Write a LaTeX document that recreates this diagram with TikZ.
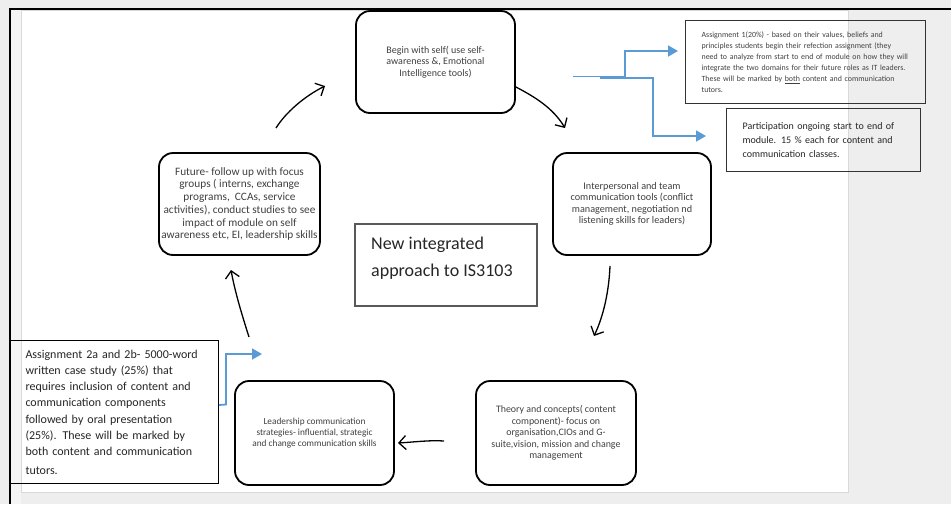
\documentclass[tikz,border=0pt]{standalone}
\usepackage{fontspec}
\setmainfont{Carlito}
\usetikzlibrary{arrows.meta}
\definecolor{bg}{HTML}{EDEEED}
\definecolor{txt}{HTML}{404040}
\definecolor{dtxt}{HTML}{262626}
\definecolor{blu}{HTML}{5B9BD5}
\begin{document}
\begin{tikzpicture}[x=1pt,y=-1pt,
  cyc/.style={draw=black, line width=1.8pt, rounded corners=14pt, inner sep=0pt, align=center, text=txt},
  flow/.style={line width=1.3pt, -{Straight Barb[length=7pt,width=14pt]}},
  bl/.style={draw=blu, line width=1.8pt, -{Triangle[length=10pt,width=11pt]}},
  note/.style={draw=black!80, line width=1.2pt, inner ysep=0pt, align=left, anchor=north west},
]
\useasboundingbox (0,0) rectangle (951,504);
\fill[bg] (0,0) rectangle (951,504);
\fill[black!4] (11,9) rectangle (21,504);
\filldraw[fill=white, draw=black!15] (21,10) rectangle (848,492);
\draw[line width=1.2pt] (951,9) -- (10,9) -- (10,504);

% cycle boxes
\node[cyc, minimum width=159pt, minimum height=102pt, font=\fontsize{10}{11.3}\selectfont] (b1) at (435.5,62)
  {Begin with self( use self-\\awareness \&, Emotional\\Intelligence tools)};
\node[cyc, minimum width=158pt, minimum height=102pt, font=\fontsize{10.2}{11.5}\selectfont] (b2) at (632,204)
  {Interpersonal and team\\communication tools (conflict\\management, negotiation nd\\listening skills for leaders)};
\node[cyc, minimum width=160pt, minimum height=104pt, font=\fontsize{9.9}{11.5}\selectfont] (b3) at (556,433)
  {Theory and concepts( content\\component)- focus on\\organisation,CIOs and G-\\suite,vision, mission and change\\management};
\node[cyc, minimum width=159pt, minimum height=104pt, font=\fontsize{9.3}{11.2}\selectfont] (b4) at (314.5,433)
  {Leadership communication\\strategies- influential, strategic\\and change communication skills};
\node[cyc, minimum width=161pt, minimum height=102pt, font=\fontsize{11.3}{12.7}\selectfont] (b5) at (239.5,204)
  {Future- follow up with focus\\groups ( interns, exchange\\programs,\ \ CCAs, service\\activities), conduct studies to see\\impact of module on self\\awareness etc, EI, leadership skills};

% centre box
\node[draw=black!65, line width=1.1pt, minimum width=182pt, minimum height=82pt, inner sep=0pt] (cb) at (446,265) {};
\node[anchor=west, align=left, inner sep=0pt, text=dtxt, font=\fontsize{18}{26.5}\selectfont] (ct) at (371,258)
  {New integrated\\approach to IS3103};

% notes
\node[note, minimum width=240pt, minimum height=83pt, inner xsep=16pt, text width=208pt, text=txt,
      font=\fontsize{7.9}{11}\selectfont] (n1) at (685,20)
  {Assignment 1(20\%) - based on their values, beliefs and\\principles students begin their refection assignment (they\\need to analyze from start to end of module on how they will\\integrate the two domains for their future roles as IT leaders.\\These will be marked by \underline{both} content and communication\\tutors.};
\node[note, minimum width=194pt, minimum height=63pt, inner xsep=16pt, text width=162pt, text=dtxt,
      font=\fontsize{10}{14}\selectfont] (n2) at (726,108)
  {Participation ongoing start to end of\\module. 15 \% each for content and\\communication classes.};
\node[note, draw=black, line width=1pt, minimum width=208pt, minimum height=143pt, inner xsep=15pt, text width=178pt, text=dtxt,
      font=\fontsize{12}{16.3}\selectfont] (n3) at (10,340)
  {Assignment 2a and 2b- 5000-word\\written case study (25\%) that\\requires inclusion of content and\\communication components\\followed by oral presentation\\(25\%). These will be marked by\\both content and communication\\[2pt]tutors.};

% cycle arrows
\coordinate (e1) at (565,128);
\coordinate (s2) at (610,266);
\coordinate (e2) at (594,336);
\coordinate (s3) at (444,441);
\coordinate (e3) at (398,443);
\coordinate (s4) at (249,337);
\coordinate (e4) at (231,270);
\coordinate (s5) at (276,128);
\coordinate (e5) at (325,86);
\draw[flow] ([yshift=-25pt]b1.east) .. controls (535,97) and (553,108) .. (e1);
\draw[flow] (s2) .. controls (609,290) and (604,315) .. (e2);
\draw[flow] (s3) .. controls (430,440) and (415,442) .. (e3);
\draw[flow] (s4) .. controls (242,315) and (235,292) .. (e4);
\draw[flow] (s5) .. controls (286,112) and (305,96) .. (e5);

% blue arrows
\coordinate (p1) at (573,76.5);
\coordinate (p2) at (600,78);
\coordinate (t1) at (678,51);
\coordinate (t2) at (706,136);
\coordinate (t3) at (262,354);
\draw[bl] (p1) -- (625,76.5) |- (t1);
\draw[bl] (p2) -- (653,78) |- (t2);
\draw[bl] ([yshift=7pt]n3.east) -- (226,404.5) |- (t3);
\end{tikzpicture}
\end{document}
